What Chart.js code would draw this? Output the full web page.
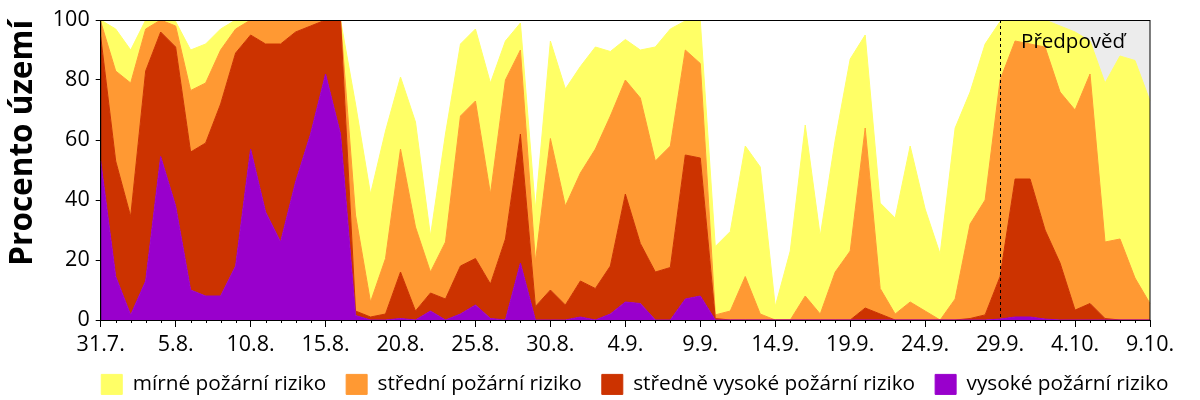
<!DOCTYPE html>
<html>
<head>
<meta charset="utf-8">
<script src="https://cdn.jsdelivr.net/npm/chart.js@4.4.1/dist/chart.umd.min.js"></script>
<style>
  html, body { margin: 0; padding: 0; background: #fff; }
  #wrap { width: 1200px; height: 400px; }
</style>
</head>
<body>
<div id="wrap"><canvas id="chart"></canvas></div>
<script>
// Days on the x axis (one point per day)
const days = [
  "31.7.",
  "1.8.", "2.8.", "3.8.", "4.8.", "5.8.", "6.8.", "7.8.", "8.8.", "9.8.", "10.8.",
  "11.8.", "12.8.", "13.8.", "14.8.", "15.8.", "16.8.", "17.8.", "18.8.", "19.8.", "20.8.",
  "21.8.", "22.8.", "23.8.", "24.8.", "25.8.", "26.8.", "27.8.", "28.8.", "29.8.", "30.8.", "31.8.",
  "1.9.", "2.9.", "3.9.", "4.9.", "5.9.", "6.9.", "7.9.", "8.9.", "9.9.", "10.9.",
  "11.9.", "12.9.", "13.9.", "14.9.", "15.9.", "16.9.", "17.9.", "18.9.", "19.9.", "20.9.",
  "21.9.", "22.9.", "23.9.", "24.9.", "25.9.", "26.9.", "27.9.", "28.9.", "29.9.", "30.9.",
  "1.10.", "2.10.", "3.10.", "4.10.", "5.10.", "6.10.", "7.10.", "8.10.", "9.10."
];

// Share of territory per risk level (%), stacked bottom to top
const vysoke = [
  53, 14.5, 1.7, 13, 54.5, 38, 10, 8, 8, 18,
  57, 36, 26, 46, 62, 82, 62, 1.5, 0, 0,
  0.5, 0, 3, 0, 2, 5, 0.5, 0, 19, 0,
  0, 0, 1, 0, 2, 6, 5.5, 0, 0, 7,
  8, 0, 0, 0, 0, 0, 0, 0, 0, 0,
  0, 0, 0, 0, 0, 0, 0, 0, 0, 0,
  0.3, 1, 1, 0.3, 0, 0, 0, 0, 0, 0,
  0
];
const stredneVysoke = [
  41.5, 38.5, 32.8, 70, 41.5, 53, 46, 51, 64, 71,
  38, 56, 66, 50, 36, 18, 38, 1.5, 1, 2,
  15.5, 3, 6, 7, 16, 15.5, 11.5, 27, 43, 4.5,
  10, 5, 12, 10.5, 16, 36, 20, 16, 17.5, 48,
  46, 0.5, 0, 0, 0, 0, 0, 0, 0, 0,
  0, 4, 2, 0, 0, 0, 0, 0, 0.5, 1.7,
  14.2, 46, 46, 29.7, 19, 3.3, 5.5, 0.5, 0, 0,
  0
];
const stredni = [
  5, 30, 44.5, 14, 4, 7, 20.5, 20, 18, 8,
  5, 8, 8, 4, 2, 0, 0, 32, 5, 18.5,
  41, 28, 7, 19, 50, 52.5, 30, 53, 28, 15,
  50.5, 33, 36, 46.5, 50, 38, 48.5, 37, 40.5, 35,
  31.5, 1.2, 3, 14.5, 2, 0, 0, 8, 2, 16,
  23, 60, 8.5, 2, 6, 3, 0, 7, 31.5, 38.3,
  65.5, 46, 45, 61, 57, 66.7, 76.5, 25.5, 27, 14,
  5.5
];
const mirne = [
  0.5, 14, 11, 3, 0, 1.5, 13.5, 13, 7, 3,
  0, 0, 0, 0, 0, 0, 0, 37, 36, 42.5,
  24, 35, 12, 36, 24, 24, 37, 13, 9, 17.5,
  32.5, 39, 35.5, 34, 21.5, 13.5, 16, 38, 39, 9.7,
  14.2, 22.8, 26.5, 43.5, 49, 4.5, 23, 57, 26, 44,
  64, 31, 28.5, 32, 52, 34, 22, 57, 44, 52,
  19.5, 7, 8, 9, 22, 26, 11, 53, 61, 72.5,
  67.5
];

// Forecast starts on this day
const forecastStart = "29.9.";
const forecastLabel = "Předpověď";

const FONT = "'Open Sans', sans-serif";

// Gray forecast background, dashed divider, label and plot frame
const forecastPlugin = {
  id: "forecast",
  beforeDatasetsDraw(chart) {
    const { ctx, chartArea, scales } = chart;
    const x0 = scales.x.getPixelForValue(days.indexOf(forecastStart));
    ctx.save();
    ctx.fillStyle = "#ececec";
    ctx.fillRect(x0, chartArea.top, chartArea.right - x0, chartArea.bottom - chartArea.top);
    ctx.restore();
  },
  afterDatasetsDraw(chart) {
    const { ctx, chartArea, scales } = chart;
    const x0 = scales.x.getPixelForValue(days.indexOf(forecastStart));
    ctx.save();
    ctx.strokeStyle = "#000";
    ctx.lineWidth = 1;
    ctx.setLineDash([3, 3]);
    ctx.beginPath();
    ctx.moveTo(Math.round(x0) + 0.5, chartArea.top);
    ctx.lineTo(Math.round(x0) + 0.5, chartArea.bottom);
    ctx.stroke();
    ctx.setLineDash([]);
    ctx.fillStyle = "#000";
    ctx.font = "20.5px " + FONT;
    ctx.textBaseline = "alphabetic";
    ctx.fillText(forecastLabel, x0 + 21, chartArea.top + 28);
    // frame round the plot
    ctx.strokeRect(chartArea.left, chartArea.top + 0.5, chartArea.right - chartArea.left, chartArea.bottom - chartArea.top);
    // short daily ticks between the labelled ones
    scales.x.ticks.forEach((t, i) => {
      if (i % 5 === 0) return;
      const x = Math.round(scales.x.getPixelForValue(i)) + 0.5;
      ctx.beginPath();
      ctx.moveTo(x, chartArea.bottom);
      ctx.lineTo(x, chartArea.bottom + 3);
      ctx.stroke();
    });
    ctx.restore();
  }
};

const layer = (label, data, color, fill) => ({
  label: label,
  data: data,
  backgroundColor: color,
  borderColor: color,
  borderWidth: 1,
  pointRadius: 0,
  tension: 0,
  fill: fill
});

const makeChart = () => new Chart(document.getElementById("chart"), {
  type: "line",
  data: {
    labels: days,
    datasets: [
      layer("vysoké požární riziko", vysoke, "#9900cc", "origin"),
      layer("středně vysoké požární riziko", stredneVysoke, "#cc3300", "-1"),
      layer("střední požární riziko", stredni, "#ff9933", "-1"),
      layer("mírné požární riziko", mirne, "#ffff66", "-1")
    ]
  },
  plugins: [forecastPlugin],
  options: {
    responsive: true,
    maintainAspectRatio: false,
    animation: false,
    layout: { padding: { top: 20, right: 11.6, left: 0, bottom: -4.8 } },
    plugins: {
      tooltip: { enabled: false },
      legend: {
        position: "bottom",
        align: "end",
        reverse: true,
        labels: {
          color: "#000",
          boxWidth: 21,
          boxHeight: 20,
          padding: 20,
          font: { family: FONT, size: 20.8 }
        }
      }
    },
    scales: {
      x: {
        offset: false,
        border: { display: true, color: "#000", width: 1 },
        grid: {
          drawOnChartArea: false,
          drawTicks: true,
          tickLength: 7,
          tickColor: (ctx) => (ctx.index % 5 === 0 ? "#000" : "rgba(0,0,0,0)")
        },
        ticks: {
          autoSkip: false,
          maxRotation: 0,
          color: "#000",
          padding: 5,
          font: { family: FONT, size: 21.5 },
          callback: (v, i) => (i % 5 === 0 ? days[i] : "")
        },
        afterFit: (scale) => {
          scale.height = 34;
          scale.paddingRight = 50;
        }
      },
      y: {
        stacked: true,
        min: 0,
        max: 100,
        border: { display: true, color: "#000", width: 1 },
        grid: { drawOnChartArea: false, drawTicks: true, tickLength: 5, tickColor: "#000" },
        ticks: {
          stepSize: 20,
          color: "#000",
          padding: 6,
          font: { family: FONT, size: 21.5 }
        },
        title: {
          display: true,
          text: "Procento území",
          color: "#000",
          align: "end",
          padding: { top: 4, bottom: 0 },
          font: { family: FONT, size: 31.5, weight: "bold" }
        },
        afterFit: (scale) => { scale.width = 100.7; }
      }
    }
  }
});

// measure text only once the installed font is ready
Promise.all([
  document.fonts.load("20.8px 'Open Sans'", "mírné"),
  document.fonts.load("bold 31.5px 'Open Sans'", "území")
]).catch(() => {}).then(makeChart);
</script>
</body>
</html>
